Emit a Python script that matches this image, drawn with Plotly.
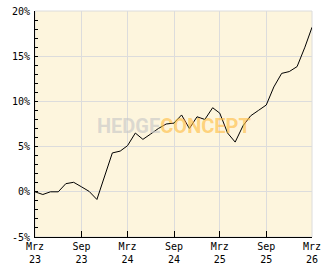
import plotly.graph_objects as go

dates = [
    "2023-03-01", "2023-04-01", "2023-05-01", "2023-06-01", "2023-07-01", "2023-08-01",
    "2023-09-01", "2023-10-01", "2023-11-01", "2023-12-01", "2024-01-01", "2024-02-01",
    "2024-03-01", "2024-04-01", "2024-05-01", "2024-06-01", "2024-07-01", "2024-08-01",
    "2024-09-01", "2024-10-01", "2024-11-01", "2024-12-01", "2025-01-01", "2025-02-01",
    "2025-03-01", "2025-04-01", "2025-05-01", "2025-06-01", "2025-07-01", "2025-08-01",
    "2025-09-01", "2025-10-01", "2025-11-01", "2025-12-01", "2026-01-01", "2026-02-01",
    "2026-03-01",
]
values = [
    0.0, -0.3, 0.0, 0.0, 0.9, 1.05,
    0.55, 0.05, -0.85, 1.8, 4.3, 4.5,
    5.1, 6.5, 5.8, 6.4, 7.0, 7.5,
    7.6, 8.5, 7.0, 8.3, 8.0, 9.3,
    8.7, 6.5, 5.5, 7.3, 8.4, 9.0,
    9.6, 11.6, 13.1, 13.3, 13.85, 16.0,
    18.2,
]

x_tick_vals = ["2023-03-01", "2023-09-01", "2024-03-01", "2024-09-01",
               "2025-03-01", "2025-09-01", "2026-03-01"]
x_tick_text = ["Mrz<br>23", "Sep<br>23", "Mrz<br>24", "Sep<br>24",
               "Mrz<br>25", "Sep<br>25", "Mrz<br>26"]
y_tick_vals = [-5, 0, 5, 10, 15, 20]
y_tick_text = ["-5%", "0%", "5%", "10%", "15%", "20%"]

font_family = "DejaVu Sans Mono"

fig = go.Figure()
fig.add_trace(go.Scatter(
    x=dates, y=values, mode="lines",
    line=dict(color="#000000", width=1),
    hoverinfo="skip", showlegend=False,
))

fig.add_annotation(
    xref="paper", yref="paper", x=0.5, y=0.49, xanchor="center", yanchor="middle",
    text="<b><span style='color:rgba(200,200,200,0.65)'>HEDGE</span>"
         "<span style='color:rgba(255,190,70,0.65)'>CONCEPT</span></b>",
    showarrow=False,
    font=dict(family="Roboto", size=20),
)

fig.add_shape(type="rect", xref="paper", yref="paper", x0=0, y0=0, x1=1, y1=1,
              line=dict(color="#dcdcdc", width=1), layer="below")

fig.update_layout(
    template="none",
    width=332, height=269,
    margin=dict(l=35, r=20, t=11, b=32, autoexpand=False),
    paper_bgcolor="#ffffff",
    plot_bgcolor="#fdf5dd",
    font=dict(family=font_family, size=10, color="#000000"),
    showlegend=False,
)
fig.update_xaxes(
    type="date",
    automargin=False,
    range=["2023-03-01", "2026-03-01"],
    tickmode="array", tickvals=x_tick_vals, ticktext=x_tick_text,
    ticks="inside", ticklen=6, tickcolor="#000000", tickwidth=1,
    showline=True, linecolor="#000000", linewidth=1,
    showgrid=True, gridcolor="#dcdcdc", gridwidth=1,
    zeroline=False,
    tickfont=dict(family=font_family, size=10, color="#000000"),
    fixedrange=True,
)
fig.update_yaxes(
    automargin=False,
    range=[-5, 20],
    tickmode="array", tickvals=y_tick_vals, ticktext=y_tick_text,
    ticks="inside", ticklen=3, tickcolor="#000000", tickwidth=1,
    minor=dict(dtick=1, tick0=0, ticks="inside", ticklen=3, tickcolor="#000000",
               showgrid=False),
    showline=True, linecolor="#000000", linewidth=1,
    showgrid=True, gridcolor="#dcdcdc", gridwidth=1,
    zeroline=False,
    ticklabelstandoff=2,
    tickfont=dict(family=font_family, size=10, color="#000000"),
    fixedrange=True,
)

fig.write_html("out.html", config={"displayModeBar": False})
